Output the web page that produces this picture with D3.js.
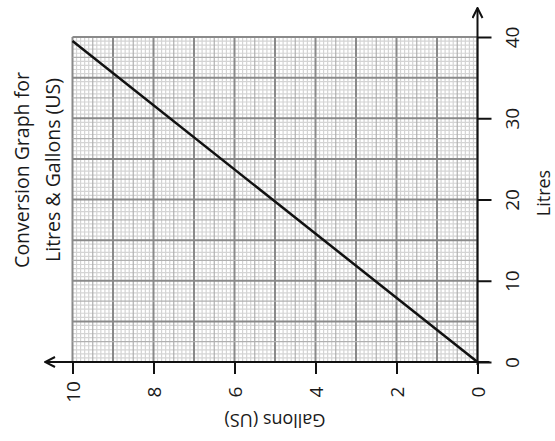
<!DOCTYPE html>
<html>
<head>
<meta charset="utf-8">
<script src="https://cdn.jsdelivr.net/npm/d3@7"></script>
<style>
  body { margin: 0; background: #fff; }
  text { font-family: "Open Sans", "Noto Sans", sans-serif; fill: #1a1a1a; }
</style>
</head>
<body>
<div id="chart"></div>
<script>
// gallons (US) against litres, as drawn on the sheet
const gallons = [0, 10];
const litres = [0, 39.5];

const gallonTicks = [0, 2, 4, 6, 8, 10];
const litreTicks = [0, 10, 20, 30, 40];

const titleLines = ['Conversion Graph for', 'Litres & Gallons (US)'];
const xLabel = 'Gallons (US)';
const yLabel = 'Litres';

const width = 555;
const height = 441;

const margins = { left: 70, right: 77, top: 37, bottom: 79 };

function translate(x, y) {
  return 'translate(' + x + ',' + y + ')';
}

const svg = d3.select('#chart')
  .append('svg')
    .attr('width', width)
    .attr('height', height);

// gallons run right to left
const xScale = d3.scaleLinear()
  .domain([0, 10])
  .range([width - margins.right - 0.5, margins.left + 2.5]);

const yScale = d3.scaleLinear()
  .domain([0, 40])
  .range([height - margins.bottom, margins.top]);

// grid paper
const grid = svg.append('g').attr('class', 'grid');

const xMinor = d3.range(0, 100.5, 1).map(d => d / 10);
const yMinor = d3.range(0, 80.5, 1).map(d => d / 2);

function lineColor(i, per) {
  if (i % per === 0) return '#8a8a8a';
  if (i % (per / 2) === 0) return '#b0b0b0';
  return '#d4d4d4';
}

function lineWidth(i, per) {
  if (i % per === 0) return 2;
  return 1.2;
}

// draw light first, then heavier on top
const xOrder = xMinor.map((d, i) => i).sort((a, b) => (a % 10 === 0) - (b % 10 === 0) || (a % 5 === 0) - (b % 5 === 0));
const yOrder = yMinor.map((d, i) => i).sort((a, b) => (a % 10 === 0) - (b % 10 === 0) || (a % 5 === 0) - (b % 5 === 0));

grid.selectAll('.v-minor')
  .data(xOrder.filter(i => i % 5 !== 0))
  .enter()
  .append('line')
    .attr('x1', i => xScale(xMinor[i]))
    .attr('x2', i => xScale(xMinor[i]))
    .attr('y1', yScale(0))
    .attr('y2', yScale(40))
    .attr('stroke', i => lineColor(i, 10))
    .attr('stroke-width', i => lineWidth(i, 10));

grid.selectAll('.h-minor')
  .data(yOrder.filter(i => i % 5 !== 0))
  .enter()
  .append('line')
    .attr('x1', xScale(0))
    .attr('x2', xScale(10))
    .attr('y1', i => yScale(yMinor[i]))
    .attr('y2', i => yScale(yMinor[i]))
    .attr('stroke', i => lineColor(i, 10))
    .attr('stroke-width', i => lineWidth(i, 10));

grid.selectAll('.v-major')
  .data(xOrder.filter(i => i % 5 === 0))
  .enter()
  .append('line')
    .attr('x1', i => xScale(xMinor[i]))
    .attr('x2', i => xScale(xMinor[i]))
    .attr('y1', yScale(0))
    .attr('y2', yScale(40))
    .attr('stroke', i => lineColor(i, 10))
    .attr('stroke-width', i => lineWidth(i, 10));

grid.selectAll('.h-major')
  .data(yOrder.filter(i => i % 5 === 0))
  .enter()
  .append('line')
    .attr('x1', xScale(0))
    .attr('x2', xScale(10))
    .attr('y1', i => yScale(yMinor[i]))
    .attr('y2', i => yScale(yMinor[i]))
    .attr('stroke', i => lineColor(i, 10))
    .attr('stroke-width', i => lineWidth(i, 10));

// conversion line
const line = d3.line()
  .x(d => xScale(d[0]))
  .y(d => yScale(d[1]));

svg.append('path')
  .datum(gallons.map((g, i) => [g, litres[i]]))
  .attr('d', line)
  .attr('fill', 'none')
  .attr('stroke', '#111')
  .attr('stroke-width', 2.5);

// arrow heads
svg.append('defs').append('marker')
    .attr('id', 'arrow')
    .attr('viewBox', '0 0 12 12')
    .attr('refX', 11)
    .attr('refY', 6)
    .attr('markerWidth', 12)
    .attr('markerHeight', 12)
    .attr('markerUnits', 'userSpaceOnUse')
    .attr('orient', 'auto')
  .append('path')
    .attr('d', 'M1,1 L11,6 L1,11')
    .attr('fill', 'none')
    .attr('stroke', '#111')
    .attr('stroke-width', 2);

// gallons axis (bottom), ticks and labels turned on their side
const xAxis = d3.axisBottom(xScale)
  .tickValues(gallonTicks)
  .tickSize(12)
  .tickFormat(d3.format('d'));

const gx = svg.append('g')
  .attr('transform', translate(0, yScale(0)))
  .call(xAxis);

gx.select('.domain').remove();
gx.selectAll('.tick line').attr('stroke', '#111').attr('stroke-width', 2);
gx.selectAll('.tick text')
  .attr('transform', 'rotate(-90)')
  .attr('x', -30)
  .attr('y', 0)
  .attr('dy', '0.35em')
  .attr('text-anchor', 'middle')
  .attr('font-size', 19)
  .style('font-family', '"Open Sans", sans-serif');

svg.append('line')
  .attr('x1', xScale(0) + 12)
  .attr('x2', margins.left - 25)
  .attr('y1', yScale(0))
  .attr('y2', yScale(0))
  .attr('stroke', '#111')
  .attr('stroke-width', 2)
  .attr('marker-end', 'url(#arrow)');

// litres axis (right)
const yAxis = d3.axisRight(yScale)
  .tickValues(litreTicks)
  .tickSize(14);

const gy = svg.append('g')
  .attr('transform', translate(xScale(0), 0))
  .call(yAxis);

gy.select('.domain').remove();
gy.selectAll('.tick line').attr('stroke', '#111').attr('stroke-width', 2);
gy.selectAll('.tick text')
  .attr('transform', 'rotate(-90)')
  .attr('x', 0)
  .attr('y', 35)
  .attr('dy', '0.35em')
  .attr('text-anchor', 'middle')
  .attr('font-size', 19)
  .style('font-family', '"Open Sans", sans-serif');

svg.append('line')
  .attr('x1', xScale(0))
  .attr('x2', xScale(0))
  .attr('y1', yScale(0) + 3)
  .attr('y2', 8)
  .attr('stroke', '#111')
  .attr('stroke-width', 2)
  .attr('marker-end', 'url(#arrow)');

// axis labels
svg.append('text')
  .attr('transform', translate((xScale(0) + xScale(10)) / 2, 420) + ' rotate(180)')
  .attr('text-anchor', 'middle')
  .attr('dy', '0.35em')
  .attr('font-size', 18)
  .text(xLabel);

svg.append('text')
  .attr('transform', translate(550, 193) + ' rotate(-90)')
  .attr('text-anchor', 'middle')
  .attr('font-size', 18)
  .text(yLabel);

// title down the left side
svg.append('g')
  .attr('transform', translate(0, 170))
  .selectAll('text')
  .data(titleLines)
  .enter()
  .append('text')
    .attr('transform', (d, i) => translate(22 + i * 31, 0) + ' rotate(-90)')
    .attr('text-anchor', 'middle')
    .attr('dy', '0.35em')
    .attr('font-size', 19.5)
    .text(d => d);
</script>
</body>
</html>
